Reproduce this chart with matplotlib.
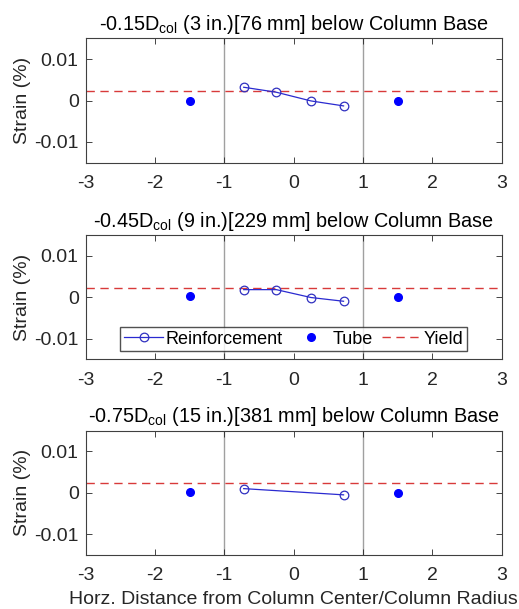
import matplotlib
matplotlib.use("Agg")
import matplotlib.pyplot as plt

plt.rcParams['font.family'] = ['Liberation Sans', 'DejaVu Sans']
plt.rcParams['mathtext.fontset'] = 'custom'
plt.rcParams['mathtext.rm'] = 'Liberation Sans'

titles = [
    r"-0.15D$_{\mathrm{col}}$ (3 in.)[76 mm] below Column Base",
    r"-0.45D$_{\mathrm{col}}$ (9 in.)[229 mm] below Column Base",
    r"-0.75D$_{\mathrm{col}}$ (15 in.)[381 mm] below Column Base",
]

# reinforcement gauges (x / column radius, strain %)
reinf_x = [
    [-0.72, -0.25, 0.25, 0.72],
    [-0.72, -0.25, 0.25, 0.72],
    [-0.72, 0.72],
]
reinf_y = [
    [0.0032, 0.0020, -0.0001, -0.0013],
    [0.0018, 0.0018, -0.0001, -0.0010],
    [0.0010, -0.0005],
]

# tube gauges
tube_x = [-1.5, 1.5]
tube_y = [
    [0.0, 0.0],
    [0.0002, 0.0],
    [0.0003, -0.0001],
]

yield_strain = 0.0023
col_edges = [-1, 1]

dark = '#262626'

fig = plt.figure(figsize=(5.19, 6.09), dpi=100)
bottoms = [0.7328, 0.410, 0.0887]

for i in range(3):
    ax = fig.add_axes([0.165, bottoms[i], 0.8015, 0.2043])
    for xe in col_edges:
        ax.axvline(xe, color='#a0a0a0', lw=1.0, zorder=1)
    ax.plot(reinf_x[i], reinf_y[i], color='#2a2ad0', lw=0.9, marker='o',
            markersize=6.2, markerfacecolor='none', markeredgecolor='#3030c0',
            markeredgewidth=0.9, label='Reinforcement', zorder=3)
    ax.plot(tube_x, tube_y[i], linestyle='none', marker='o', markersize=5.5,
            color='#0000ff', label='Tube', zorder=3)
    ax.axhline(yield_strain, color='#d83a3a', lw=1.0, ls=(0, (6, 4)),
               label='Yield', zorder=2)

    ax.set_xlim(-3, 3)
    ax.set_ylim(-0.015, 0.015)
    ax.set_xticks([-3, -2, -1, 0, 1, 2, 3])
    ax.set_xticklabels(['-3', '-2', '-1', '0', '1', '2', '3'])
    ax.set_yticks([-0.01, 0, 0.01])
    ax.set_yticklabels(['-0.01', '0', '0.01'])
    ax.tick_params(direction='in', top=True, right=True, length=4,
                   width=0.6, colors=dark, labelsize=14)
    ax.tick_params(axis='x', pad=9)
    ax.tick_params(axis='y', pad=5)
    for s in ax.spines.values():
        s.set_color('#404040')
        s.set_linewidth(0.8)
    ax.set_ylabel('Strain (%)', fontsize=14, color=dark, labelpad=2)
    ax.set_title(titles[i], fontsize=14.3, color='black', pad=6)

    if i == 1:
        ax.legend(loc='lower center', bbox_to_anchor=(0.5, 0.065), ncol=3,
                  fontsize=13, frameon=True, fancybox=False,
                  edgecolor='#262626', handlelength=2.2, handletextpad=0.1,
                  columnspacing=0.5, borderpad=0.2, borderaxespad=0.0)
    if i == 2:
        ax.set_xlabel('Horz. Distance from Column Center/Column Radius',
                      fontsize=14, color=dark, labelpad=5)

fig.savefig('out.png', dpi=100)
